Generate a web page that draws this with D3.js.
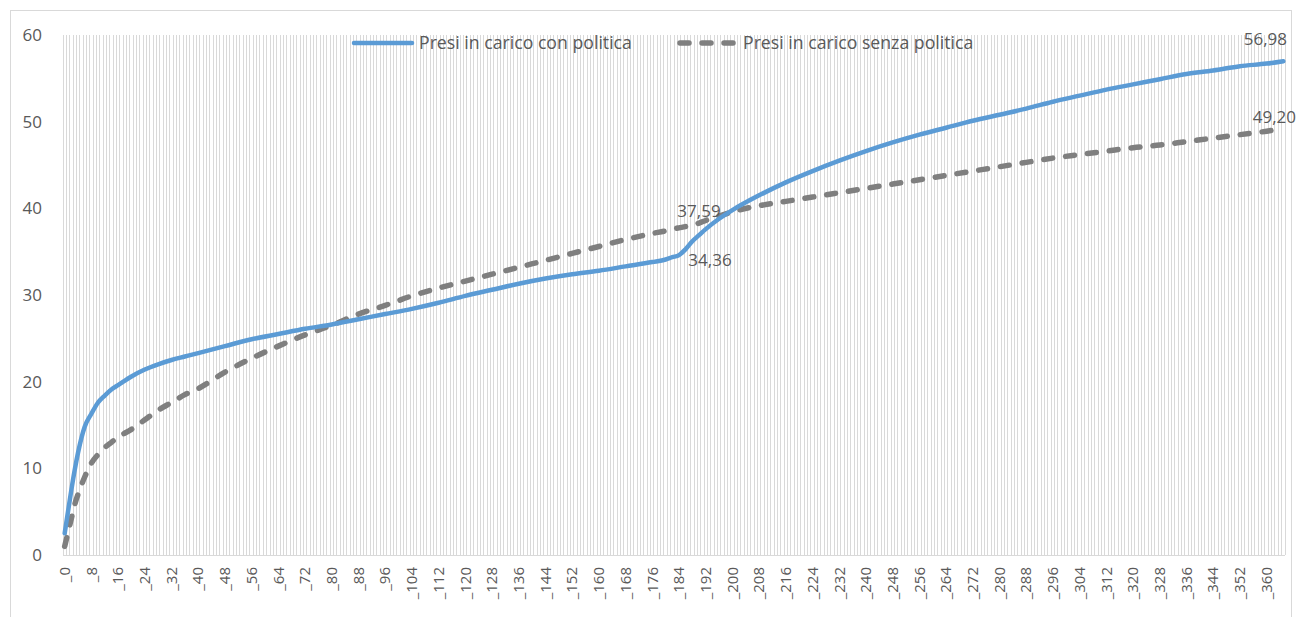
<!DOCTYPE html>
<html>
<head>
<meta charset="utf-8">
<script src="https://cdn.jsdelivr.net/npm/d3@7"></script>
<style>
    body { margin: 0; background: #fff; }
    text { font-family: "Open Sans", sans-serif; fill: #595959; }
</style>
</head>
<body>
<svg id="chart" width="1298" height="617"></svg>
<script>
// giorni campionati sulla curva (asse categorie 0..365)
const giorni = [0, 1, 2, 3, 4, 6, 8, 10, 12, 14, 16, 20, 24, 28, 32, 36, 40, 48, 56, 64, 72, 80, 88, 96, 104, 112, 120, 128, 136, 144, 152, 160, 168, 176, 180, 182, 184, 186, 188, 190, 192, 196, 200, 208, 216, 224, 232, 240, 248, 256, 264, 272, 280, 288, 296, 304, 312, 320, 328, 336, 344, 352, 360, 365]

const conPolitica = [2.5, 5.0, 7.5, 9.8, 11.8, 14.8, 16.3, 17.6, 18.4, 19.1, 19.6, 20.6, 21.4, 22.0, 22.5, 22.9, 23.3, 24.1, 24.9, 25.5, 26.1, 26.6, 27.2, 27.8, 28.4, 29.1, 29.9, 30.6, 31.3, 31.9, 32.4, 32.8, 33.3, 33.8, 34.1, 34.36, 34.6, 35.3, 36.2, 36.9, 37.6, 38.8, 39.8, 41.5, 43.0, 44.3, 45.5, 46.6, 47.6, 48.5, 49.3, 50.1, 50.8, 51.5, 52.3, 53.0, 53.7, 54.3, 54.9, 55.5, 55.9, 56.4, 56.7, 56.98]

const senzaPolitica = [1.0, 2.6, 4.2, 5.8, 7.0, 9.0, 10.6, 11.6, 12.4, 13.0, 13.6, 14.5, 15.6, 16.7, 17.6, 18.5, 19.2, 21.1, 22.7, 24.1, 25.4, 26.5, 27.8, 28.8, 29.9, 30.8, 31.6, 32.4, 33.2, 34.0, 34.8, 35.6, 36.4, 37.1, 37.4, 37.59, 37.75, 37.9, 38.1, 38.3, 38.6, 39.1, 39.6, 40.3, 40.8, 41.3, 41.8, 42.3, 42.8, 43.3, 43.8, 44.3, 44.8, 45.3, 45.8, 46.2, 46.6, 47.0, 47.3, 47.7, 48.1, 48.5, 48.9, 49.20]

const nomiSerie = ["Presi in carico con politica", "Presi in carico senza politica"]
const yTicks = [0, 10, 20, 30, 40, 50, 60]
const numGiorni = 366

// etichette dati: [serie, giorno]
const etichette = [[0, 182], [1, 182], [0, 365], [1, 365]]

const svg = d3.select("#chart")
const margin = {left: 63, right: 1285, top: 35, bottom: 555}

svg.append("rect")
    .attr("x", 10.5).attr("y", 10.5)
    .attr("width", 1281).attr("height", 612)
    .attr("fill", "#fff").attr("stroke", "#d9d9d9")

const categorie = d3.range(numGiorni)
const x = d3.scaleBand().domain(categorie).range([margin.left, margin.right])
const y = d3.scaleLinear().domain([0, 60]).range([margin.bottom, margin.top])
const cx = d => x(d) + x.bandwidth() / 2

// griglia verticale, una linea per categoria
svg.append("g")
    .selectAll("line")
    .data(categorie.concat([numGiorni]))
    .enter().append("line")
    .attr("x1", d => d < numGiorni ? x(d) : margin.right)
    .attr("x2", d => d < numGiorni ? x(d) : margin.right)
    .attr("y1", margin.top).attr("y2", margin.bottom)
    .attr("stroke", "#d9d9d9")
    .attr("stroke-width", 1)
    .attr("shape-rendering", "crispEdges")

svg.append("line")
    .attr("x1", margin.left).attr("x2", margin.right)
    .attr("y1", margin.bottom).attr("y2", margin.bottom)
    .attr("stroke", "#d9d9d9")
    .attr("shape-rendering", "crispEdges")

// asse x
const axisX = d3.axisBottom(x)
    .tickValues(categorie.filter(d => d % 8 === 0))
    .tickSize(0)
    .tickFormat(d => "_" + d)

svg.append("g")
    .attr("class", "axis axis--x")
    .attr("transform", "translate(0," + margin.bottom + ")")
    .call(axisX)
    .call(g => g.select(".domain").remove())
    .selectAll("text")
    .attr("transform", "rotate(-90)")
    .attr("text-anchor", "end")
    .attr("x", -12)
    .attr("y", 0)
    .attr("dy", "0.35em")
    .style("font-size", "15px")
    .style("fill", "#595959")

// asse y
const axisY = d3.axisLeft(y).tickValues(yTicks).tickSize(0)
svg.append("g")
    .attr("class", "axis axis--y")
    .attr("transform", "translate(" + (margin.left - 18) + ",0)")
    .call(axisY)
    .call(g => g.select(".domain").remove())
    .selectAll("text")
    .style("font-size", "17px")
    .style("fill", "#595959")

// linee
const serie = [conPolitica, senzaPolitica]
const stili = [
    {color: "#5b9bd5", width: 4.5, dash: null},
    {color: "#7f7f7f", width: 5.5, dash: "9,13"},
]

const line = d3.line()
    .x(d => cx(d[0]))
    .y(d => y(d[1]))
    .curve(d3.curveMonotoneX)

serie.slice().reverse().forEach((vals, k) => {
    const i = serie.length - 1 - k
    svg.append("path")
        .datum(giorni.map((g, j) => [g, vals[j]]))
        .attr("d", line)
        .attr("fill", "none")
        .attr("stroke", stili[i].color)
        .attr("stroke-width", stili[i].width)
        .attr("stroke-linecap", "round")
        .attr("stroke-linejoin", "round")
        .attr("stroke-dasharray", stili[i].dash)
})

// etichette dati
const it = d3.formatLocale({decimal: ",", thousands: ".", grouping: [3], currency: ["", "€"]})
const fmt = it.format(".2f")
const offset = {
    "0_182": {dx: 16, dy: 3, anchor: "start"},
    "1_182": {dx: 5, dy: -18, anchor: "start"},
    "0_365": {dx: -18, dy: -22, anchor: "middle"},
    "1_365": {dx: -9, dy: -12, anchor: "middle"},
}
svg.append("g")
    .selectAll("text")
    .data(etichette)
    .enter().append("text")
    .each(function (d) {
        const v = serie[d[0]][giorni.indexOf(d[1])]
        const o = offset[d[0] + "_" + d[1]]
        d3.select(this)
            .attr("x", cx(d[1]) + o.dx)
            .attr("y", y(v) + o.dy)
            .attr("dy", "0.35em")
            .attr("text-anchor", o.anchor)
            .style("font-size", "17px")
            .text(fmt(v))
    })

// legenda
const legenda = [{x: 352, w: 62}, {x: 678, w: 60}]
legenda.forEach((l, i) => {
    const g = svg.append("g").attr("transform", "translate(" + l.x + ",43)")
    g.append("line")
        .attr("x1", 2).attr("x2", l.w - 2)
        .attr("stroke", stili[i].color)
        .attr("stroke-width", stili[i].width)
        .attr("stroke-linecap", "round")
        .attr("stroke-dasharray", stili[i].dash)
    g.append("text")
        .attr("x", l.w + 5)
        .attr("dy", "0.35em")
        .style("font-size", "17.7px")
        .text(nomiSerie[i])
})
</script>
</body>
</html>
